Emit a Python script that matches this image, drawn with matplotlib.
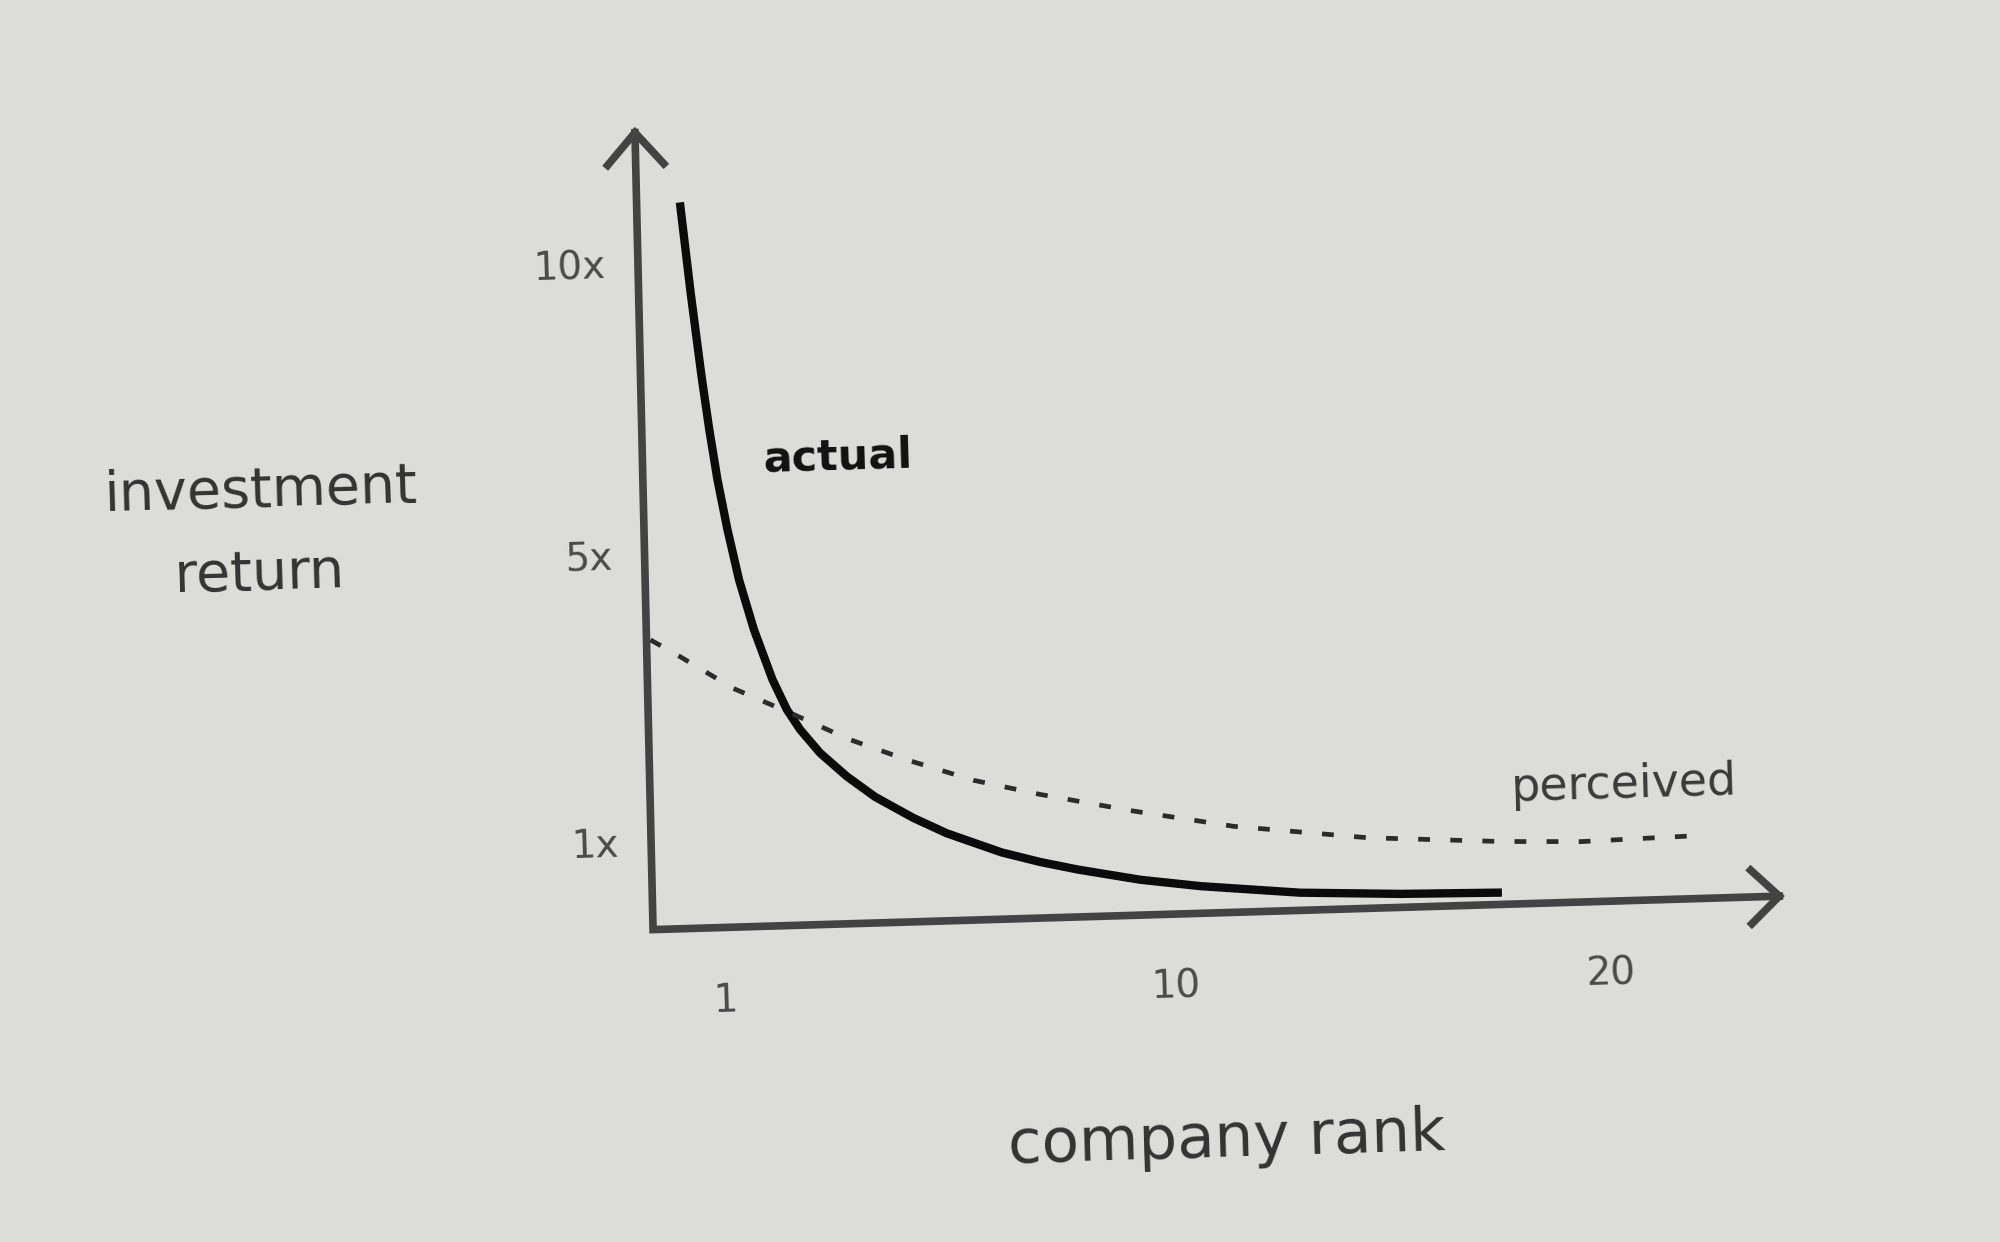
import numpy as np
import matplotlib
matplotlib.use("Agg")
import matplotlib.pyplot as plt
from matplotlib.transforms import Affine2D

# values
actual_rank = [0.606, 0.730, 0.853, 0.945, 1.061, 1.237, 1.449, 1.724, 2.07, 2.344,
               2.601, 2.989, 3.511, 4.07, 4.825, 5.48, 6.568, 7.33, 8.091, 9.335,
               10.61, 12.90, 15.22, 17.55]
actual_return = [11.08, 9.498, 8.09, 7.164, 6.305, 5.445, 4.644, 3.945, 3.244, 2.820,
                 2.534, 2.20, 1.864, 1.565, 1.256, 1.030, 0.782, 0.657, 0.554, 0.413,
                 0.318, 0.207, 0.158, 0.138]

perceived_rank = [0.056, 0.462, 1.288, 2.40, 3.585, 4.723, 6.04, 7.359, 9.213, 11.41,
                  14.49, 17.55, 19.40, 22.29]
perceived_return = [3.846, 3.602, 3.135, 2.774, 2.376, 2.068, 1.757, 1.533, 1.263, 1.007,
                    0.826, 0.736, 0.707, 0.739]

x_ticks = [1, 10, 20]
x_tick_labels = ["1", "10", "20"]
y_ticks = [1, 5, 10]
y_tick_labels = ["1x", "5x", "10x"]

# the drawing is hand spaced: piecewise linear scales between the labelled ticks
# (value -> pixels on a 1568 x 974 page, measured from the axes corner)
x_knots = [-20, 0, 1, 10, 20, 40]
x_px = [-1120, 0, 56, 409, 749, 1429]
y_knots = [-10, 0, 1, 5, 10, 20]
y_px = [-670, 0, 67, 292, 520, 976]

W, H = 1568, 974
OX, OY = 512, 729          # axes corner on the page
LEAN_Y = -1.3              # the photographed page is a little skewed
LEAN_X = 1.7
PAPER = "#dcdcd8"

fx = lambda v: np.interp(v, x_knots, x_px)
ix = lambda p: np.interp(p, x_px, x_knots)
fy = lambda v: np.interp(v, y_knots, y_px)
iy = lambda p: np.interp(p, y_px, y_knots)

plt.rcParams['font.family'] = ['DejaVu Sans']

fig = plt.figure(figsize=(20, 12.42), dpi=100, facecolor=PAPER)
ax = fig.add_axes([0, 0, 1, 1])
ax.set_xscale('function', functions=(fx, ix))
ax.set_yscale('function', functions=(fy, iy))
ax.set_xlim(ix(-OX), ix(W - OX))
ax.set_ylim(iy(-(H - OY)), iy(OY))
ax.axis('off')
ax.patch.set_visible(False)

# skew everything about the axes corner
ox, oy = ax.transData.transform((0, 0))
skew = Affine2D().translate(-ox, -oy).skew_deg(LEAN_Y, LEAN_X).translate(ox, oy)
tr = ax.transData + skew

def px(points):
	xs = [float(ix(p[0])) for p in points]
	ys = [float(iy(p[1])) for p in points]
	return xs, ys

# axes with open arrow heads
axis_c = "#434343"
for pts in ([(0, 625), (0, 0), (883, 0)],
            [(-22, 600), (0, 625), (22, 600)],
            [(861, 21), (883, 0), (861, -21)]):
	xs, ys = px(pts)
	ax.plot(xs, ys, color=axis_c, lw=5.5, transform=tr,
	        solid_joinstyle='miter', solid_capstyle='projecting')

# curves
ax.plot(actual_rank, actual_return, color="#0b0b0b", lw=6, transform=tr,
        solid_capstyle='butt', solid_joinstyle='round')
ax.plot(perceived_rank, perceived_return, color="#2b2b2b", lw=3.4,
        ls=(0, (2.5, 4.3)), transform=tr, dash_capstyle='butt')

# tick labels
for v, lab in zip(x_ticks, x_tick_labels):
	ax.text(v, float(iy(-57)), lab, transform=tr, ha='center', va='center',
	        fontsize=28, color="#4a4a4a", rotation=LEAN_X, rotation_mode='anchor')
for v, lab in zip(y_ticks, y_tick_labels):
	ax.text(float(ix(-25)), v, lab, transform=tr, ha='right', va='center',
	        fontsize=28, color="#4a4a4a", rotation=LEAN_X, rotation_mode='anchor')

def page_text(x, y, s, **kw):
	fig.text(x / W, 1 - y / H, s, rotation=LEAN_X, rotation_mode='anchor',
	         va='baseline', **kw)

page_text(205, 397, "investment", ha='center', fontsize=40, color="#333333")
page_text(204, 462, "return", ha='center', fontsize=40, color="#333333")
page_text(962, 907, "company rank", ha='center', fontsize=44, color="#333333")
page_text(598, 370, "actual", ha='left', fontsize=31, fontweight='bold', color="#111111")
page_text(1185, 628, "perceived", ha='left', fontsize=33, color="#3a3a3a")

fig.savefig("out.png", dpi=100, facecolor=PAPER)
